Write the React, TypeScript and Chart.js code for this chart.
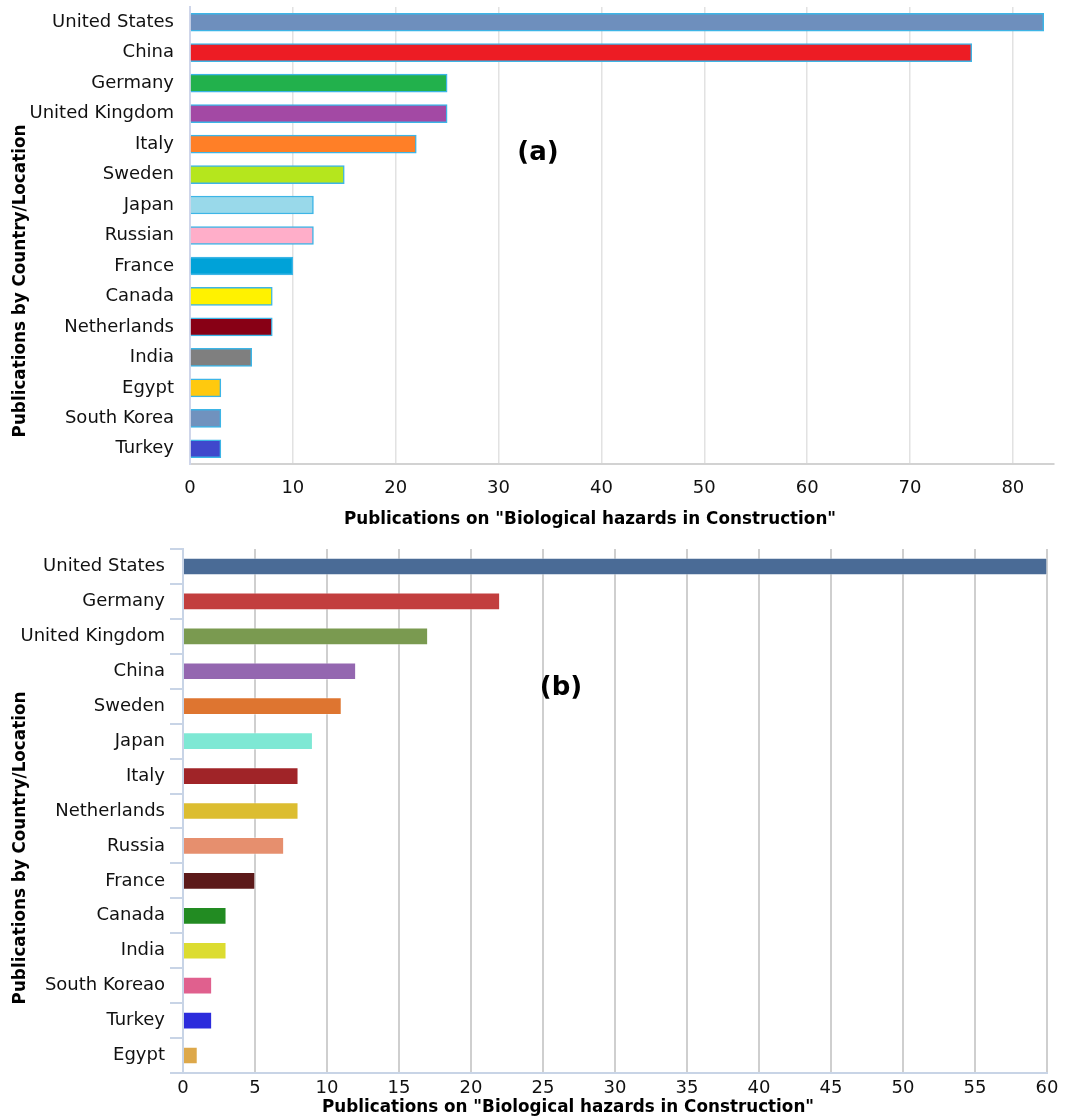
import React, { useEffect, useRef } from "react";
import { Chart, registerables } from "chart.js";

Chart.register(...registerables);

// ---------- Data (a) ----------
const countriesA = [
  "United States", "China", "Germany", "United Kingdom", "Italy", "Sweden", "Japan",
  "Russian", "France", "Canada", "Netherlands", "India", "Egypt", "South Korea", "Turkey",
];
const valuesA = [83, 76, 25, 25, 22, 15, 12, 12, 10, 8, 8, 6, 3, 3, 3];
const colorsA = [
  "#6e8fbd", "#ed1c24", "#22b14c", "#a349a4", "#ff7f27", "#b5e61d", "#99d9ea",
  "#ffaec9", "#00a2d8", "#fff200", "#880015", "#7f7f7f", "#ffc90e", "#7092be", "#3f48cc",
];
const ticksA = { min: 0, max: 84, step: 10 };

// ---------- Data (b) ----------
const countriesB = [
  "United States", "Germany", "United Kingdom", "China", "Sweden", "Japan", "Italy",
  "Netherlands", "Russia", "France", "Canada", "India", "South Koreao", "Turkey", "Egypt",
];
const valuesB = [60, 22, 17, 12, 11, 9, 8, 8, 7, 5, 3, 3, 2, 2, 1];
const colorsB = [
  "#4a6b96", "#c23e3e", "#7a9a50", "#9467b0", "#de7530", "#7ee8d4", "#a02428",
  "#dcbd30", "#e68f6e", "#5c1a1a", "#228b22", "#dcdc30", "#e0608e", "#2c2cdc", "#dda84a",
];
const ticksB = { min: 0, max: 60, step: 5 };

const xTitle = 'Publications on "Biological hazards in Construction"';
const yTitle = "Publications by Country/Location";

const FONT = "'DejaVu Sans', 'Liberation Sans', Arial, sans-serif";
const TICK_SIZE = 18;
const TITLE_SIZE = 16.8;

type TextItem = { text: string; x: number; y: number; size: number; rotate?: boolean };

const textPlugin = {
  id: "textOverlay",
  afterDraw(chart: any) {
    const items: TextItem[] = chart.options.plugins.textOverlay?.items || [];
    const ctx = chart.ctx;
    items.forEach((it) => {
      ctx.save();
      ctx.font = `bold ${it.size}px ${FONT}`;
      ctx.fillStyle = "#000";
      ctx.textAlign = "center";
      ctx.textBaseline = "middle";
      ctx.translate(it.x, it.y);
      if (it.rotate) ctx.rotate(-Math.PI / 2);
      ctx.fillText(it.text, 0, 0);
      ctx.restore();
    });
  },
};

function makeConfigA(): any {
  return {
    type: "bar",
    data: {
      labels: countriesA,
      datasets: [
        {
          data: valuesA,
          backgroundColor: colorsA,
          borderColor: "#3db5e6",
          borderWidth: 1.5,
          barThickness: 18,
        },
      ],
    },
    plugins: [textPlugin],
    options: {
      indexAxis: "y",
      responsive: false,
      animation: false,
      devicePixelRatio: 1,
      layout: { padding: { top: 7, right: 20, left: 0, bottom: 0 } },
      plugins: {
        legend: { display: false },
        tooltip: { enabled: false },
        textOverlay: {
          items: [
            { text: xTitle, x: 590, y: 520, size: TITLE_SIZE },
            { text: yTitle, x: 21, y: 281, size: TITLE_SIZE, rotate: true },
            { text: "(a)", x: 538, y: 153, size: 26 },
          ],
        },
      },
      scales: {
        x: {
          type: "linear",
          min: ticksA.min,
          max: ticksA.max,
          ticks: {
            stepSize: ticksA.step,
            includeBounds: false,
            padding: 14,
            color: "#111",
            font: { family: FONT, size: TICK_SIZE },
          },
          grid: { color: "#e2e2e2", lineWidth: 1.5, drawTicks: false },
          border: { display: true, color: "#d2d2d2", width: 2 },
          afterFit: (s: any) => { s.height = 71; },
        },
        y: {
          type: "category",
          ticks: { padding: 16, color: "#111", font: { family: FONT, size: TICK_SIZE } },
          grid: { display: false, drawTicks: false },
          border: { display: true, color: "#cfd6ea", width: 2 },
          afterFit: (s: any) => { s.width = 190; s.paddingTop = 0; s.paddingBottom = 0; },
        },
      },
    },
  };
}

function makeConfigB(): any {
  return {
    type: "bar",
    data: {
      labels: countriesB,
      datasets: [
        {
          data: valuesB,
          backgroundColor: colorsB,
          borderColor: "rgba(255,255,255,0.3)",
          borderWidth: 1,
          barThickness: 17,
        },
      ],
    },
    plugins: [textPlugin],
    options: {
      indexAxis: "y",
      responsive: false,
      animation: false,
      devicePixelRatio: 1,
      layout: { padding: { top: 9, right: 27, left: 0, bottom: 0 } },
      plugins: {
        legend: { display: false },
        tooltip: { enabled: false },
        textOverlay: {
          items: [
            { text: xTitle, x: 568, y: 568, size: TITLE_SIZE },
            { text: yTitle, x: 21, y: 308, size: TITLE_SIZE, rotate: true },
            { text: "(b)", x: 561, y: 148, size: 26 },
          ],
        },
      },
      scales: {
        x: {
          type: "linear",
          min: ticksB.min,
          max: ticksB.max,
          ticks: {
            stepSize: ticksB.step,
            padding: 5,
            color: "#111",
            font: { family: FONT, size: TICK_SIZE },
          },
          grid: { color: "#cfcfcf", lineWidth: 2, drawTicks: false },
          border: { display: true, color: "#c8d4e6", width: 2 },
          afterFit: (s: any) => { s.height = 45; },
        },
        y: {
          type: "category",
          ticks: { padding: 5, color: "#111", font: { family: FONT, size: TICK_SIZE } },
          grid: {
            display: true,
            drawOnChartArea: false,
            drawTicks: true,
            tickLength: 13,
            offset: true,
            color: "#c8d4e6",
            lineWidth: 2,
          },
          border: { display: true, color: "#c8d4e6", width: 2 },
          afterFit: (s: any) => { s.width = 183; s.paddingTop = 0; s.paddingBottom = 0; },
        },
      },
    },
  };
}

function ChartCanvas({ make, top, height }: { make: () => any; top: number; height: number }) {
  const ref = useRef<HTMLCanvasElement | null>(null);
  useEffect(() => {
    if (!ref.current) return;
    const chart = new Chart(ref.current, make());
    return () => chart.destroy();
  }, []);
  return (
    <canvas
      ref={ref}
      width={1074}
      height={height}
      style={{ position: "absolute", left: 0, top, width: 1074, height }}
    />
  );
}

export default function App() {
  return (
    <div style={{ position: "absolute", left: 0, top: 0, width: 1074, height: 1118, background: "#fff" }}>
      <ChartCanvas make={makeConfigA} top={0} height={535} />
      <ChartCanvas make={makeConfigB} top={540} height={578} />
    </div>
  );
}
